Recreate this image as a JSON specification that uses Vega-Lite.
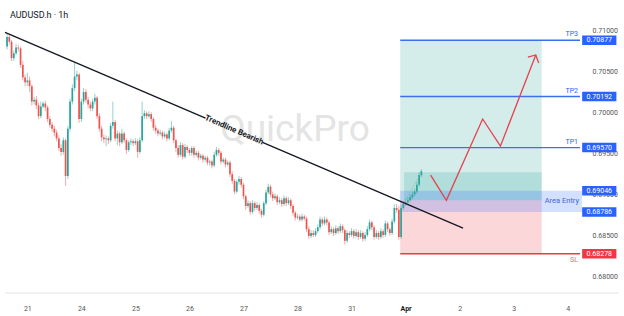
{
"$schema":"https://vega.github.io/schema/vega-lite/v6.json",
"width":585,"height":298,
"autosize":{"type":"none"},
"padding":{"left":0,"top":0,"right":39,"bottom":18},
"background":"#ffffff",
"config":{"view":{"stroke":null},"font":"Roboto"},
"datasets":{
"candles":[
{"h":-9,"o":0.708,"c":0.70917,"hi":0.70953,"lo":0.70765},
{"h":-8,"o":0.70917,"c":0.70859,"hi":0.70941,"lo":0.70824},
{"h":-7,"o":0.70859,"c":0.70659,"hi":0.70882,"lo":0.70624},
{"h":-6,"o":0.70659,"c":0.70718,"hi":0.70753,"lo":0.70624},
{"h":-5,"o":0.70718,"c":0.70788,"hi":0.70835,"lo":0.70694},
{"h":-4,"o":0.70788,"c":0.70777,"hi":0.70824,"lo":0.70741},
{"h":-3,"o":0.70777,"c":0.70577,"hi":0.708,"lo":0.70541},
{"h":-2,"o":0.70577,"c":0.70424,"hi":0.70624,"lo":0.70388},
{"h":-1,"o":0.70424,"c":0.70365,"hi":0.70459,"lo":0.70318},
{"h":0,"o":0.70365,"c":0.70388,"hi":0.70482,"lo":0.70318},
{"h":1,"o":0.70388,"c":0.70318,"hi":0.70435,"lo":0.70247},
{"h":2,"o":0.70318,"c":0.7013,"hi":0.70341,"lo":0.70083},
{"h":3,"o":0.7013,"c":0.70153,"hi":0.70188,"lo":0.70094},
{"h":4,"o":0.70153,"c":0.70083,"hi":0.702,"lo":0.70036},
{"h":5,"o":0.70083,"c":0.69953,"hi":0.70118,"lo":0.69918},
{"h":6,"o":0.69953,"c":0.70071,"hi":0.7013,"lo":0.69929},
{"h":7,"o":0.70071,"c":0.70106,"hi":0.7013,"lo":0.70047},
{"h":8,"o":0.70106,"c":0.70059,"hi":0.70141,"lo":0.70012},
{"h":9,"o":0.70059,"c":0.69918,"hi":0.70083,"lo":0.69882},
{"h":10,"o":0.69918,"c":0.69847,"hi":0.69953,"lo":0.69812},
{"h":11,"o":0.69847,"c":0.698,"hi":0.69882,"lo":0.69765},
{"h":12,"o":0.698,"c":0.69753,"hi":0.69835,"lo":0.69706},
{"h":13,"o":0.69753,"c":0.69682,"hi":0.69788,"lo":0.69647},
{"h":14,"o":0.69682,"c":0.69565,"hi":0.69718,"lo":0.6953},
{"h":15,"o":0.69565,"c":0.69518,"hi":0.69612,"lo":0.69471},
{"h":16,"o":0.69518,"c":0.69659,"hi":0.69694,"lo":0.69482},
{"h":17,"o":0.69659,"c":0.69224,"hi":0.69682,"lo":0.69106},
{"h":18,"o":0.69224,"c":0.698,"hi":0.69835,"lo":0.69188},
{"h":19,"o":0.698,"c":0.7013,"hi":0.70165,"lo":0.69765},
{"h":20,"o":0.7013,"c":0.70294,"hi":0.70341,"lo":0.70094},
{"h":21,"o":0.70294,"c":0.70435,"hi":0.706,"lo":0.70259},
{"h":22,"o":0.70435,"c":0.70459,"hi":0.70506,"lo":0.70388},
{"h":23,"o":0.70459,"c":0.69918,"hi":0.70482,"lo":0.69871},
{"h":24,"o":0.69918,"c":0.7013,"hi":0.70165,"lo":0.69882},
{"h":25,"o":0.7013,"c":0.70247,"hi":0.70294,"lo":0.70094},
{"h":26,"o":0.70247,"c":0.70153,"hi":0.70282,"lo":0.70118},
{"h":27,"o":0.70153,"c":0.70094,"hi":0.70188,"lo":0.70047},
{"h":28,"o":0.70094,"c":0.70047,"hi":0.7013,"lo":0.70012},
{"h":29,"o":0.70047,"c":0.7013,"hi":0.70165,"lo":0.70012},
{"h":30,"o":0.7013,"c":0.70177,"hi":0.70224,"lo":0.70094},
{"h":31,"o":0.70177,"c":0.69953,"hi":0.702,"lo":0.69918},
{"h":32,"o":0.69953,"c":0.698,"hi":0.69988,"lo":0.69765},
{"h":33,"o":0.698,"c":0.69694,"hi":0.69835,"lo":0.69647},
{"h":34,"o":0.69694,"c":0.69671,"hi":0.6973,"lo":0.69624},
{"h":35,"o":0.69671,"c":0.69682,"hi":0.69718,"lo":0.69588},
{"h":36,"o":0.69682,"c":0.69659,"hi":0.69706,"lo":0.69612},
{"h":37,"o":0.69659,"c":0.69835,"hi":0.69871,"lo":0.69635},
{"h":38,"o":0.69835,"c":0.69882,"hi":0.7013,"lo":0.698},
{"h":39,"o":0.69882,"c":0.69682,"hi":0.69906,"lo":0.69647},
{"h":40,"o":0.69682,"c":0.69741,"hi":0.69777,"lo":0.696},
{"h":41,"o":0.69741,"c":0.69635,"hi":0.69765,"lo":0.69588},
{"h":42,"o":0.69635,"c":0.69741,"hi":0.698,"lo":0.69612},
{"h":43,"o":0.69741,"c":0.69659,"hi":0.69765,"lo":0.69624},
{"h":44,"o":0.69659,"c":0.69541,"hi":0.69682,"lo":0.69494},
{"h":45,"o":0.69541,"c":0.69635,"hi":0.69659,"lo":0.69518},
{"h":46,"o":0.69635,"c":0.69647,"hi":0.69682,"lo":0.696},
{"h":47,"o":0.69647,"c":0.69624,"hi":0.69671,"lo":0.69588},
{"h":48,"o":0.69624,"c":0.69647,"hi":0.69682,"lo":0.696},
{"h":49,"o":0.69647,"c":0.69518,"hi":0.69671,"lo":0.69447},
{"h":50,"o":0.69518,"c":0.69659,"hi":0.69694,"lo":0.69494},
{"h":51,"o":0.69659,"c":0.69953,"hi":0.7013,"lo":0.69635},
{"h":52,"o":0.69953,"c":0.69988,"hi":0.70024,"lo":0.69918},
{"h":53,"o":0.69988,"c":0.69953,"hi":0.70012,"lo":0.69918},
{"h":54,"o":0.69953,"c":0.69977,"hi":0.70012,"lo":0.69929},
{"h":55,"o":0.69977,"c":0.69918,"hi":0.7,"lo":0.69882},
{"h":56,"o":0.69918,"c":0.69812,"hi":0.69941,"lo":0.69777},
{"h":57,"o":0.69812,"c":0.69777,"hi":0.69847,"lo":0.69741},
{"h":58,"o":0.69777,"c":0.69741,"hi":0.698,"lo":0.69706},
{"h":59,"o":0.69741,"c":0.69753,"hi":0.69788,"lo":0.69718},
{"h":60,"o":0.69753,"c":0.69706,"hi":0.69777,"lo":0.69671},
{"h":61,"o":0.69706,"c":0.6973,"hi":0.69765,"lo":0.69682},
{"h":62,"o":0.6973,"c":0.69682,"hi":0.69753,"lo":0.69647},
{"h":63,"o":0.69682,"c":0.69777,"hi":0.69812,"lo":0.69659},
{"h":64,"o":0.69777,"c":0.69812,"hi":0.69894,"lo":0.69753},
{"h":65,"o":0.69812,"c":0.69659,"hi":0.69835,"lo":0.69624},
{"h":66,"o":0.69659,"c":0.69565,"hi":0.69682,"lo":0.69518},
{"h":67,"o":0.69565,"c":0.69482,"hi":0.696,"lo":0.69447},
{"h":68,"o":0.69482,"c":0.696,"hi":0.69635,"lo":0.69459},
{"h":69,"o":0.696,"c":0.69459,"hi":0.69624,"lo":0.69424},
{"h":70,"o":0.69459,"c":0.69577,"hi":0.69612,"lo":0.69435},
{"h":71,"o":0.69577,"c":0.69541,"hi":0.696,"lo":0.69506},
{"h":72,"o":0.69541,"c":0.69506,"hi":0.69565,"lo":0.69471},
{"h":73,"o":0.69506,"c":0.69565,"hi":0.69588,"lo":0.69471},
{"h":74,"o":0.69565,"c":0.69482,"hi":0.69588,"lo":0.69447},
{"h":75,"o":0.69482,"c":0.69506,"hi":0.6953,"lo":0.69459},
{"h":76,"o":0.69506,"c":0.69447,"hi":0.6953,"lo":0.69412},
{"h":77,"o":0.69447,"c":0.69471,"hi":0.69494,"lo":0.69424},
{"h":78,"o":0.69471,"c":0.69424,"hi":0.69494,"lo":0.69388},
{"h":79,"o":0.69424,"c":0.69447,"hi":0.69471,"lo":0.694},
{"h":80,"o":0.69447,"c":0.69388,"hi":0.69471,"lo":0.69353},
{"h":81,"o":0.69388,"c":0.694,"hi":0.69424,"lo":0.69353},
{"h":82,"o":0.694,"c":0.69353,"hi":0.69424,"lo":0.69318},
{"h":83,"o":0.69353,"c":0.69482,"hi":0.69518,"lo":0.6933},
{"h":84,"o":0.69482,"c":0.69541,"hi":0.69577,"lo":0.69459},
{"h":85,"o":0.69541,"c":0.69506,"hi":0.69565,"lo":0.69471},
{"h":86,"o":0.69506,"c":0.694,"hi":0.6953,"lo":0.69365},
{"h":87,"o":0.694,"c":0.69424,"hi":0.69447,"lo":0.69377},
{"h":88,"o":0.69424,"c":0.69365,"hi":0.69447,"lo":0.6933},
{"h":89,"o":0.69365,"c":0.69388,"hi":0.69412,"lo":0.69341},
{"h":90,"o":0.69388,"c":0.69247,"hi":0.69412,"lo":0.69212},
{"h":91,"o":0.69247,"c":0.69165,"hi":0.69282,"lo":0.6913},
{"h":92,"o":0.69165,"c":0.69035,"hi":0.69188,"lo":0.69},
{"h":93,"o":0.69035,"c":0.69153,"hi":0.69177,"lo":0.69012},
{"h":94,"o":0.69153,"c":0.69188,"hi":0.69224,"lo":0.69118},
{"h":95,"o":0.69188,"c":0.69118,"hi":0.69212,"lo":0.69083},
{"h":96,"o":0.69118,"c":0.68977,"hi":0.69141,"lo":0.68941},
{"h":97,"o":0.68977,"c":0.68859,"hi":0.69,"lo":0.68812},
{"h":98,"o":0.68859,"c":0.68894,"hi":0.68929,"lo":0.68835},
{"h":99,"o":0.68894,"c":0.68788,"hi":0.68918,"lo":0.68753},
{"h":100,"o":0.68788,"c":0.68894,"hi":0.68929,"lo":0.68765},
{"h":101,"o":0.68894,"c":0.68835,"hi":0.68918,"lo":0.688},
{"h":102,"o":0.68835,"c":0.68871,"hi":0.68906,"lo":0.68812},
{"h":103,"o":0.68871,"c":0.688,"hi":0.68894,"lo":0.68765},
{"h":104,"o":0.688,"c":0.68753,"hi":0.68824,"lo":0.68718},
{"h":105,"o":0.68753,"c":0.68894,"hi":0.68918,"lo":0.6873},
{"h":106,"o":0.68894,"c":0.69024,"hi":0.69059,"lo":0.68871},
{"h":107,"o":0.69024,"c":0.69094,"hi":0.6913,"lo":0.69},
{"h":108,"o":0.69094,"c":0.69,"hi":0.69118,"lo":0.68965},
{"h":109,"o":0.69,"c":0.68953,"hi":0.69035,"lo":0.68918},
{"h":110,"o":0.68953,"c":0.68977,"hi":0.69012,"lo":0.68929},
{"h":111,"o":0.68977,"c":0.68906,"hi":0.69,"lo":0.68871},
{"h":112,"o":0.68906,"c":0.68929,"hi":0.68965,"lo":0.68882},
{"h":113,"o":0.68929,"c":0.68882,"hi":0.68953,"lo":0.68847},
{"h":114,"o":0.68882,"c":0.68953,"hi":0.68988,"lo":0.68859},
{"h":115,"o":0.68953,"c":0.68894,"hi":0.68977,"lo":0.68859},
{"h":116,"o":0.68894,"c":0.68929,"hi":0.68965,"lo":0.68871},
{"h":117,"o":0.68929,"c":0.68859,"hi":0.68953,"lo":0.68824},
{"h":118,"o":0.68859,"c":0.68777,"hi":0.68882,"lo":0.68741},
{"h":119,"o":0.68777,"c":0.68718,"hi":0.688,"lo":0.68682},
{"h":120,"o":0.68718,"c":0.6873,"hi":0.68765,"lo":0.68694},
{"h":121,"o":0.6873,"c":0.68694,"hi":0.68753,"lo":0.68671},
{"h":122,"o":0.68694,"c":0.6873,"hi":0.68765,"lo":0.68671},
{"h":123,"o":0.6873,"c":0.68706,"hi":0.68753,"lo":0.68682},
{"h":124,"o":0.68706,"c":0.68577,"hi":0.6873,"lo":0.68541},
{"h":125,"o":0.68577,"c":0.68494,"hi":0.68612,"lo":0.68459},
{"h":126,"o":0.68494,"c":0.6853,"hi":0.68565,"lo":0.68471},
{"h":127,"o":0.6853,"c":0.68506,"hi":0.68565,"lo":0.68482},
{"h":128,"o":0.68506,"c":0.68553,"hi":0.68588,"lo":0.68482},
{"h":129,"o":0.68553,"c":0.686,"hi":0.68635,"lo":0.6853},
{"h":130,"o":0.686,"c":0.68694,"hi":0.6873,"lo":0.68577},
{"h":131,"o":0.68694,"c":0.68647,"hi":0.68718,"lo":0.68612},
{"h":132,"o":0.68647,"c":0.68694,"hi":0.6873,"lo":0.68624},
{"h":133,"o":0.68694,"c":0.68659,"hi":0.68718,"lo":0.68624},
{"h":134,"o":0.68659,"c":0.68541,"hi":0.68682,"lo":0.68506},
{"h":135,"o":0.68541,"c":0.68577,"hi":0.68612,"lo":0.68518},
{"h":136,"o":0.68577,"c":0.6853,"hi":0.686,"lo":0.68494},
{"h":137,"o":0.6853,"c":0.68588,"hi":0.68624,"lo":0.68506},
{"h":138,"o":0.68588,"c":0.68553,"hi":0.68612,"lo":0.68518},
{"h":139,"o":0.68553,"c":0.68612,"hi":0.68647,"lo":0.6853},
{"h":140,"o":0.68612,"c":0.68565,"hi":0.68635,"lo":0.6853},
{"h":141,"o":0.68565,"c":0.68435,"hi":0.68588,"lo":0.68388},
{"h":142,"o":0.68435,"c":0.6853,"hi":0.68565,"lo":0.68412},
{"h":143,"o":0.6853,"c":0.68506,"hi":0.68553,"lo":0.68471},
{"h":144,"o":0.68506,"c":0.68553,"hi":0.68588,"lo":0.68482},
{"h":145,"o":0.68553,"c":0.68494,"hi":0.68577,"lo":0.68459},
{"h":146,"o":0.68494,"c":0.68541,"hi":0.68577,"lo":0.68471},
{"h":147,"o":0.68541,"c":0.68482,"hi":0.68565,"lo":0.68447},
{"h":148,"o":0.68482,"c":0.6853,"hi":0.68565,"lo":0.68459},
{"h":149,"o":0.6853,"c":0.68459,"hi":0.68553,"lo":0.68424},
{"h":150,"o":0.68459,"c":0.68506,"hi":0.68541,"lo":0.68435},
{"h":151,"o":0.68506,"c":0.68577,"hi":0.68612,"lo":0.68482},
{"h":152,"o":0.68577,"c":0.68659,"hi":0.68694,"lo":0.68553},
{"h":153,"o":0.68659,"c":0.686,"hi":0.68682,"lo":0.68565},
{"h":154,"o":0.686,"c":0.68482,"hi":0.68624,"lo":0.68447},
{"h":155,"o":0.68482,"c":0.6853,"hi":0.68565,"lo":0.68459},
{"h":156,"o":0.6853,"c":0.68482,"hi":0.68553,"lo":0.68447},
{"h":157,"o":0.68482,"c":0.68553,"hi":0.68588,"lo":0.68459},
{"h":158,"o":0.68553,"c":0.68506,"hi":0.68577,"lo":0.68471},
{"h":159,"o":0.68506,"c":0.68647,"hi":0.68682,"lo":0.68482},
{"h":160,"o":0.68647,"c":0.68577,"hi":0.68671,"lo":0.68541},
{"h":161,"o":0.68577,"c":0.6853,"hi":0.686,"lo":0.68494},
{"h":162,"o":0.6853,"c":0.68671,"hi":0.68706,"lo":0.68506},
{"h":163,"o":0.68671,"c":0.68835,"hi":0.68882,"lo":0.68647},
{"h":164,"o":0.68835,"c":0.68812,"hi":0.68882,"lo":0.68777},
{"h":165,"o":0.68812,"c":0.68482,"hi":0.68859,"lo":0.68447},
{"h":166,"o":0.68482,"c":0.68835,"hi":0.68871,"lo":0.68459},
{"h":167,"o":0.68835,"c":0.68882,"hi":0.68918,"lo":0.68812},
{"h":168,"o":0.68882,"c":0.68906,"hi":0.68941,"lo":0.68859},
{"h":169,"o":0.68906,"c":0.68929,"hi":0.68965,"lo":0.68882},
{"h":170,"o":0.68929,"c":0.68965,"hi":0.69,"lo":0.68906},
{"h":171,"o":0.68965,"c":0.69,"hi":0.69035,"lo":0.68941},
{"h":172,"o":0.69,"c":0.69035,"hi":0.69071,"lo":0.68977},
{"h":173,"o":0.69035,"c":0.69118,"hi":0.69153,"lo":0.69012},
{"h":174,"o":0.69118,"c":0.69235,"hi":0.69271,"lo":0.69094},
{"h":175,"o":0.69235,"c":0.69282,"hi":0.69306,"lo":0.69212}
],
"zones":[
{"zone":"profit","h1":165.6,"h2":228.4,"p1":0.68929,"p2":0.70877},
{"zone":"open","h1":167.3,"h2":228.4,"p1":0.68929,"p2":0.69271},
{"zone":"loss","h1":165.6,"h2":228.4,"p1":0.68278,"p2":0.68929},
{"zone":"entry","h1":165.6,"h2":246.3,"p1":0.68786,"p2":0.69046}
],
"levels":[
{"name":"TP3","p":0.70877,"kind":"tp"},
{"name":"TP2","p":0.70192,"kind":"tp"},
{"name":"TP1","p":0.6957,"kind":"tp"},
{"name":"SL","p":0.68278,"kind":"sl"}
],
"boxes":[
{"p":0.70877,"kind":"tp"},
{"p":0.70192,"kind":"tp"},
{"p":0.6957,"kind":"tp"},
{"p":0.69046,"kind":"entry"},
{"p":0.68786,"kind":"entry"},
{"p":0.68278,"kind":"sl"}
],
"trend":[
{"seg":1,"h":-9.91,"p":0.70973},
{"seg":1,"h":79.14,"p":0.69929},
{"seg":2,"h":104.45,"p":0.69633},
{"seg":2,"h":193.5,"p":0.68589}
],
"path":[
{"g":1,"s":1,"h":179.1,"p":0.69235},
{"g":1,"s":2,"h":186.1,"p":0.68929},
{"g":1,"s":3,"h":202.2,"p":0.69918},
{"g":1,"s":4,"h":210.1,"p":0.69588},
{"g":1,"s":5,"h":225.8,"p":0.70698},
{"g":2,"s":1,"h":222.3,"p":0.70671},
{"g":2,"s":2,"h":225.8,"p":0.70698},
{"g":2,"s":3,"h":227.1,"p":0.706}
],
"hint":[
{"s":1,"h":167.5,"p":0.68914},
{"s":2,"h":174.9,"p":0.69259}
]
},
"layer":[
{"data":{"values":[{"t":"QuickPro","h":118.9,"p":0.69788}]},
 "mark":{"type":"text","fontSize":37,"font":"Roboto","color":"#e4e4e4","align":"center","baseline":"middle"},
 "encoding":{
  "x":{"field":"h","type":"quantitative","title":null,"scale":{"domain":[-9.91,245.44],"zero":false,"nice":false},
   "axis":{"orient":"bottom","values":[0,24,48,72,96,120,144,168,192,216,240],
    "labelExpr":"datum.value == 0 ? '21' : datum.value == 24 ? '24' : datum.value == 48 ? '25' : datum.value == 72 ? '26' : datum.value == 96 ? '27' : datum.value == 120 ? '28' : datum.value == 144 ? '31' : datum.value == 168 ? 'Apr' : datum.value == 192 ? '2' : datum.value == 216 ? '3' : '4'",
    "labelFontSize":7,"labelFont":"Roboto",
    "labelColor":{"condition":{"test":"datum.value == 168","value":"#131722"},"value":"#555555"},
    "labelFontWeight":{"condition":{"test":"datum.value == 168","value":"bold"},"value":"normal"},
    "ticks":false,"domain":false,"grid":false,"labelPadding":6,"title":null}},
  "y":{"field":"p","type":"quantitative","title":null,"scale":{"domain":[0.678,0.71306],"zero":false,"nice":false},
   "axis":{"orient":"right","values":[0.68,0.685,0.69,0.695,0.7,0.705,0.71],"format":".5f",
    "labelFontSize":7,"labelFont":"Roboto","labelColor":"#555555","ticks":false,"domain":false,"grid":false,"labelPadding":7,"title":null}},
  "text":{"field":"t"}}},
{"data":{"name":"zones"},
 "mark":{"type":"rect","opacity":0.2},
 "encoding":{
  "x":{"field":"h1","type":"quantitative","title":null},"x2":{"field":"h2"},
  "y":{"field":"p1","type":"quantitative","title":null},"y2":{"field":"p2"},
  "color":{"condition":[{"test":"datum.zone == 'loss'","value":"#f23645"},{"test":"datum.zone == 'entry'","value":"#2962ff"}],"value":"#26a69a"}}},
{"data":{"name":"candles"},
 "mark":{"type":"rule","strokeWidth":1,"opacity":0.5},
 "encoding":{
  "x":{"field":"h","type":"quantitative","title":null},
  "y":{"field":"lo","type":"quantitative","title":null},"y2":{"field":"hi"},
  "color":{"condition":{"test":"datum.c >= datum.o","value":"#26a69a"},"value":"#ef5350"}}},
{"data":{"name":"candles"},
 "mark":{"type":"bar","width":1.7},
 "encoding":{
  "x":{"field":"h","type":"quantitative","title":null},
  "y":{"field":"o","type":"quantitative","title":null},"y2":{"field":"c"},
  "color":{"condition":{"test":"datum.c >= datum.o","value":"#26a69a"},"value":"#ef5350"}}},
{"data":{"name":"trend"},
 "mark":{"type":"line","color":"#131722","strokeWidth":1.3},
 "encoding":{
  "x":{"field":"h","type":"quantitative","title":null},
  "y":{"field":"p","type":"quantitative","title":null},
  "detail":{"field":"seg"}}},
{"data":{"values":[{"t":"Trendline Bearish","h":91.8,"p":0.69781}]},
 "mark":{"type":"text","fontSize":8,"fontWeight":"bold","font":"Roboto","color":"#131722","angle":23.5,"align":"center","baseline":"middle"},
 "encoding":{
  "x":{"field":"h","type":"quantitative","title":null},
  "y":{"field":"p","type":"quantitative","title":null},
  "text":{"field":"t"}}},
{"data":{"name":"hint"},
 "mark":{"type":"line","color":"#7aa8a2","strokeWidth":0.8,"strokeDash":[1,1.5]},
 "encoding":{
  "x":{"field":"h","type":"quantitative","title":null},
  "y":{"field":"p","type":"quantitative","title":null},
  "order":{"field":"s"}}},
{"data":{"name":"levels"},
 "mark":{"type":"rule","strokeWidth":1.4},
 "encoding":{
  "x":{"datum":165.6,"type":"quantitative","title":null},"x2":{"datum":245.44},
  "y":{"field":"p","type":"quantitative","title":null},
  "color":{"condition":{"test":"datum.kind == 'sl'","value":"#f23645"},"value":"#3c6ff0"}}},
{"data":{"name":"levels"},
 "transform":[{"filter":"datum.kind == 'tp'"}],
 "mark":{"type":"text","fontSize":7,"font":"Roboto","color":"#2962ff","align":"right","baseline":"middle","dy":-6,"dx":-2},
 "encoding":{
  "x":{"datum":245.44,"type":"quantitative","title":null},
  "y":{"field":"p","type":"quantitative","title":null},
  "text":{"field":"name"}}},
{"data":{"name":"levels"},
 "transform":[{"filter":"datum.kind == 'sl'"}],
 "mark":{"type":"text","fontSize":7,"font":"Roboto","color":"#f0656f","align":"right","baseline":"middle","dy":6,"dx":-2},
 "encoding":{
  "x":{"datum":245.44,"type":"quantitative","title":null},
  "y":{"field":"p","type":"quantitative","title":null},
  "text":{"field":"name"}}},
{"data":{"values":[{"t":"Area Entry","p":0.68916}]},
 "mark":{"type":"text","fontSize":7.5,"font":"Roboto","color":"#4466d0","align":"right","baseline":"middle","dx":-1},
 "encoding":{
  "x":{"datum":245.44,"type":"quantitative","title":null},
  "y":{"field":"p","type":"quantitative","title":null},
  "text":{"field":"t"}}},
{"data":{"name":"path"},
 "mark":{"type":"line","color":"#e5414f","strokeWidth":1.3},
 "encoding":{
  "x":{"field":"h","type":"quantitative","title":null},
  "y":{"field":"p","type":"quantitative","title":null},
  "detail":{"field":"g"},
  "order":{"field":"s"}}},
{"data":{"name":"boxes"},
 "mark":{"type":"bar","height":9.5},
 "encoding":{
  "x":{"datum":246.4,"type":"quantitative","title":null},"x2":{"datum":261.6},
  "y":{"field":"p","type":"quantitative","title":null},
  "color":{"condition":{"test":"datum.kind == 'sl'","value":"#f23645"},"value":"#2962ff"}}},
{"data":{"name":"boxes"},
 "mark":{"type":"text","fontSize":7,"font":"Roboto","color":"#ffffff","align":"center","baseline":"middle"},
 "encoding":{
  "x":{"datum":254.0,"type":"quantitative","title":null},
  "y":{"field":"p","type":"quantitative","title":null},
  "text":{"field":"p","type":"quantitative","format":".5f"}}},
{"data":{"values":[{"p":0.678}]},
 "mark":{"type":"rule","color":"#e0e3eb","strokeWidth":1},
 "encoding":{
  "x":{"datum":-9.91,"type":"quantitative","title":null},"x2":{"datum":262.6},
  "y":{"field":"p","type":"quantitative","title":null}}},
{"data":{"values":[{"t":"AUDUSD.h · 1h","h":-7.7,"p":0.71188}]},
 "mark":{"type":"text","fontSize":9,"font":"Roboto","color":"#131722","align":"left","baseline":"middle"},
 "encoding":{
  "x":{"field":"h","type":"quantitative","title":null},
  "y":{"field":"p","type":"quantitative","title":null},
  "text":{"field":"t"}}}
]
}
